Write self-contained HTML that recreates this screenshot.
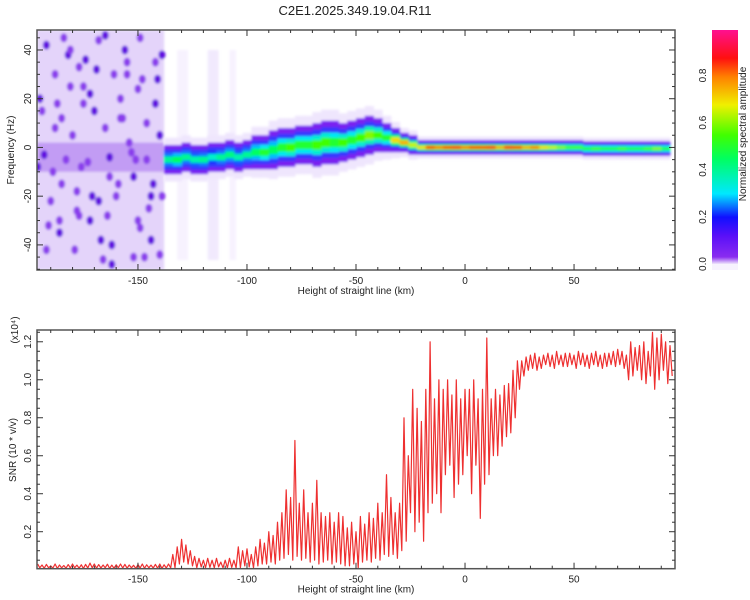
<!DOCTYPE html>
<html><head><meta charset="utf-8"><style>
body{margin:0;background:#fff;}
svg{display:block;font-family:"Liberation Sans",sans-serif;}
</style></head><body>
<svg id="c" width="750" height="600" viewBox="0 0 750 600">
<defs>
<filter id="bl" x="-20%" y="-20%" width="140%" height="140%"><feGaussianBlur stdDeviation="1.3"/></filter>
<linearGradient id="cbg" x1="0" y1="1" x2="0" y2="0">
<stop offset="0" stop-color="#efe6fc"/><stop offset="0.03" stop-color="#8a2cf0"/><stop offset="0.12" stop-color="#5a10f8"/><stop offset="0.2" stop-color="#1010ff"/><stop offset="0.3" stop-color="#00e8ff"/><stop offset="0.45" stop-color="#00ff60"/><stop offset="0.55" stop-color="#40ff00"/><stop offset="0.68" stop-color="#f0f000"/><stop offset="0.8" stop-color="#ff8000"/><stop offset="0.88" stop-color="#ff1010"/><stop offset="1" stop-color="#ff1090"/>
</linearGradient>
<clipPath id="cp1"><rect x="37" y="30" width="638" height="240"/></clipPath>
<clipPath id="cp2"><rect x="37" y="330" width="638" height="239"/></clipPath>
</defs>
<text x="355" y="15" font-size="13" text-anchor="middle" fill="#222">C2E1.2025.349.19.04.R11</text>
<g id="topPanel" clip-path="url(#cp1)"></g>
<g id="botPanel" clip-path="url(#cp2)"></g>
<g id="axes"></g>
</svg>
<script>
// ---- SNR data (x10^4), 2 km bins starting at -196
const snrStart = -196, snrStep = 2;
const snrHigh = [0.03,0.025,0.028,0.02,0.03,0.025,0.022,0.027,0.03,0.024,0.026,0.028,0.035,0.03,0.027,0.025,0.029,0.024,0.026,0.03,0.028,0.025,0.023,0.027,0.03,0.026,0.024,0.028,0.03,0.026,0.03,
0.08,0.12,0.16,0.13,0.1,
0.07,0.06,0.05,0.06,0.05,0.06,0.04,0.05,0.06,0.05,
0.12,0.1,0.11,0.08,
0.12,0.16,0.14,0.2,0.18,0.25,
0.3,0.42,0.38,0.68,
0.35,0.42,0.3,0.35,0.47,0.3,0.28,0.3,0.25,0.3,0.28,
0.22,0.25,0.2,0.28,0.24,0.3,0.27,0.35,0.3,0.5,
0.38,0.3,0.35,0.8,0.6,
0.95,0.85,0.78,0.95,1.2,
0.9,1.0,0.95,1.0,0.92,1.0,0.9,0.95,
0.95,1.0,0.9,0.95,1.22,
0.9,0.95,0.92,0.97,0.98,1.05,1.1,
1.1,1.12,1.13,1.14,1.12,1.13,1.14,1.13,1.15,1.13,1.14,1.14,1.13,1.15,1.14,1.13,1.14,1.15,1.13,1.14,1.14,1.15,1.16,1.15,1.13,1.2,1.17,
1.18,1.2,1.15,1.25,1.22,1.24,1.2,1.18];
const snrLow = [0.01,0.008,0.01,0.009,0.007,0.01,0.008,0.009,0.01,0.008,0.007,0.009,0.01,0.008,0.009,0.01,0.007,0.008,0.01,0.009,0.008,0.01,0.007,0.009,0.008,0.01,0.009,0.008,0.007,0.009,0.01,
0.01,0.03,0.04,0.03,0.02,
0.01,0.015,0.01,0.012,0.01,0.015,0.01,0.01,0.012,0.01,
0.01,0.02,0.015,0.01,
0.02,0.03,0.03,0.04,0.03,0.05,
0.06,0.08,0.05,0.07,
0.05,0.06,0.04,0.05,0.03,0.04,0.05,0.03,0.04,0.03,0.02,
0.02,0.03,0.01,0.04,0.05,0.04,0.06,0.05,0.08,0.07,
0.08,0.06,0.1,0.15,0.3,
0.2,0.25,0.15,0.3,0.35,
0.4,0.3,0.5,0.55,0.38,0.45,0.5,0.6,
0.4,0.55,0.27,0.45,0.5,
0.6,0.6,0.65,0.7,0.72,0.8,0.95,
1.02,1.05,1.06,1.05,1.06,1.08,1.07,1.06,1.08,1.07,1.07,1.08,1.06,1.08,1.07,1.06,1.08,1.07,1.06,1.07,1.08,1.07,1.08,1.06,1.0,1.02,1.05,
1.0,0.98,1.02,0.95,1.0,1.05,0.98,1.02];
// ---- spectrogram ridge data, 4 km steps starting at -136
const ridgeStart = -136, ridgeStep = 4;
const ridgeFreq = [-5,-5,-4,-5,-5,-4,-4,-3,-4,-3,-2,-2,-1,0,0,1,1,1,2,2,2,3,4,5,5,4,3,2,1,0,0,0,
0,0,0,0,0,0,0,0,0,0,0,0,0,0,0,0,-0.5,-0.5,-0.5,-0.5,-0.5,-0.5,-0.5,-0.5,-0.5,-0.5];
const ridgeAmp = [0.4,0.45,0.4,0.38,0.4,0.35,0.4,0.42,0.38,0.4,
0.45,0.5,0.45,0.5,0.55,0.5,0.5,0.55,0.55,0.5,0.55,0.5,
0.55,0.6,0.55,0.5,0.7,0.75,0.65,0.7,0.85,0.8,
0.85,0.9,0.8,0.85,0.85,0.9,0.75,0.9,0.85,0.75,0.8,0.7,0.65,0.6,0.55,0.55,0.5,0.55,0.5,0.5,0.55,0.5,0.5,0.55,0.6,0.5];
const ridgeWidth = [6,6,6,6,6,6,6,6,6,6,
7,7,8,8,8,8,8,9,9,9,8,8,
8,8,7,6,5,4,4,3,3,3,
3,3,3,3,3,3,3,3,3,3,3,3,3,3,3,3,3,3,3,3,3,3,3,3,3,3];
// noise speckles in the left (-196..-138) region: [km, Hz]
const speckX = [-192,-188,-185,-182,-178,-175,-172,-168,-165,-162,-158,-155,-152,-148,-145,-142,-140,-190,-186,-180,-176,-170,-166,-160,-156,-150,-146,-141,-194,-184,-174,-164,-154,-144,-189,-179,-169,-159,-149,-139,-191,-181,-171,-161,-151,-143,-187,-177,-167,-157,-147,
-193,-183,-173,-163,-153,-146,-195,-185,-177,-168,-158,-149,-140,-192,-181,-172,-163,-155,-144,-188,-178,-165,-152,-142,-196,-186,-175,-162,-150,-139];
const speckF = [42,30,12,38,-18,25,-30,44,8,-40,20,35,-12,28,-25,18,-44,-22,-35,5,-8,15,-46,-20,40,-30,10,28,15,45,36,-28,2,-38,-10,-42,32,-15,45,38,-32,25,-20,30,-5,-15,18,-28,-38,12,-45,
-3,-5,-6,-4,-2,-5,20,-15,33,-22,12,-33,5,-42,40,22,-12,30,-20,8,-26,46,-45,35,-8,-30,18,-48,24,-20];
const cbTicks = [0.0,0.2,0.4,0.6,0.8];
const xTicks = [-150,-100,-50,0,50];
const fTicks = [-40,-20,0,20,40];
const sTicks = [0.2,0.4,0.6,0.8,1.0,1.2];

const NS='http://www.w3.org/2000/svg';
function mk(tag, attrs, parent){const e=document.createElementNS(NS,tag);for(const k in attrs)e.setAttribute(k,attrs[k]);parent.appendChild(e);return e;}
const X0=37,X1=675,KM0=-196.3,KM1=96.3;
const xs = v => X0+(v-KM0)/(KM1-KM0)*(X1-X0);
const T0=30,T1=270,F0=-50.3,F1=48.2;
const yf = v => T1-(v-F0)/(F1-F0)*(T1-T0);
const B0=330,B1=569.7,S1=1.262;
const ys = v => B1-v/S1*(B1-B0);
function cmap(v){
  const st=[[0,[239,230,252]],[0.04,[138,44,240]],[0.12,[90,16,248]],[0.2,[16,16,255]],[0.3,[0,232,255]],[0.45,[0,255,96]],[0.55,[64,255,0]],[0.68,[240,240,0]],[0.8,[255,128,0]],[0.88,[255,16,16]],[1,[255,16,144]]];
  v=Math.max(0,Math.min(1,v));
  for(let i=1;i<st.length;i++){if(v<=st[i][0]){const a=st[i-1],b=st[i],t=(v-a[0])/(b[0]-a[0]);return 'rgb('+a[1].map((c,j)=>Math.round(c+(b[1][j]-c)*t)).join(',')+')';}}
  return 'rgb(255,16,144)';
}
// ---- top spectrogram
const topG=document.getElementById('topPanel');
const noise=mk('g',{filter:'url(#bl)'},topG);


mk('rect',{x:xs(-196.3),y:T0,width:xs(-138)-xs(-196.3),height:T1-T0,fill:'#e4d4fa'},noise);
mk('rect',{x:xs(-132),y:T0+20,width:xs(-127)-xs(-132),height:T1-T0-30,fill:'#f7f2fe'},noise);
mk('rect',{x:xs(-118),y:T0+20,width:xs(-113)-xs(-118),height:T1-T0-30,fill:'#f1e9fd'},noise);
mk('rect',{x:xs(-108),y:T0+20,width:xs(-105)-xs(-108),height:T1-T0-30,fill:'#f7f2fe'},noise);
mk('rect',{x:xs(-196.3),y:yf(2),width:xs(-138)-xs(-196.3),height:yf(-10)-yf(2),fill:'#9a58ee',opacity:0.45},noise);
for(let i=0;i<speckX.length;i++){
  const d=mk('ellipse',{cx:xs(speckX[i]),cy:yf(speckF[i]),rx:3.5,ry:4.5,fill:i%3===0?'#6010e0':'#8a3cec'},noise);
  
  
}
const band=mk('g',{filter:'url(#bl)'},topG);


const layers=[[1.5,()=> '#efe6fd'],[1.0,()=> '#7a20f0'],[0.7,()=> '#3838ff'],[0.45,a=>cmap(a*0.62)],[0.22,a=>cmap(a)]];
const colW=xs(ridgeStep)-xs(0);
layers.forEach(([k,fn])=>{
  for(let i=0;i<ridgeFreq.length;i++){
    const km=ridgeStart+i*ridgeStep, hw=ridgeWidth[i]*k;
    const r=mk('rect',{x:xs(km)-colW/2,y:yf(ridgeFreq[i]+hw),width:colW+0.5,height:yf(ridgeFreq[i]-hw)-yf(ridgeFreq[i]+hw),fill:fn(ridgeAmp[i])},band);
    
    
  }
});
// ---- bottom SNR line
const botG=document.getElementById('botPanel');
let pts=[];
for(let i=0;i<snrHigh.length;i++){const km=snrStart+i*snrStep;pts.push(xs(km).toFixed(1)+','+ys(snrHigh[i]).toFixed(1));pts.push(xs(km+1).toFixed(1)+','+ys(snrLow[i]).toFixed(1));}
const line=mk('polyline',{points:pts.join(' '),fill:'none',stroke:'#ee3030','stroke-width':1.2,'stroke-linejoin':'round'},botG);


// ---- axes
const ax=document.getElementById('axes');
function frame(y0,y1,name){const r=mk('rect',{x:X0,y:y0,width:X1-X0,height:y1-y0,fill:'none',stroke:'#555','stroke-width':1.5},ax);}
frame(T0,T1,'spectrogram-frame');frame(B0,B1-1,'snr-frame');
function xaxis(y0,y1,name){
  for(let v=-190;v<=90;v+=10){const x=xs(v),L=(v%50===0)?6:3;mk('line',{x1:x,y1:y1,x2:x,y2:y1-L,stroke:'#333'},ax);mk('line',{x1:x,y1:y0,x2:x,y2:y0+L,stroke:'#333'},ax);}
  xTicks.forEach(v=>{const tl=mk('text',{x:xs(v),y:y1+14,'font-size':10,'text-anchor':'middle',fill:'#222'},ax);tl.textContent=v;});
  const tt=mk('text',{x:356,y:y1+24,'font-size':10,'text-anchor':'middle',fill:'#222'},ax);tt.textContent='Height of straight line (km)';
}
xaxis(T0,T1,'x-axis-title-top');xaxis(B0,B1-1,'x-axis-title-bottom');
for(let v=-50;v<=45;v+=5){const y=yf(v),L=(v%20===0)?6:3;mk('line',{x1:X0,y1:y,x2:X0+L,y2:y,stroke:'#333'},ax);mk('line',{x1:X1,y1:y,x2:X1-L,y2:y,stroke:'#333'},ax);}
fTicks.forEach(v=>{const y=yf(v);const tl=mk('text',{x:0,y:0,transform:`translate(31,${y}) rotate(-90)`,'font-size':10,'text-anchor':'middle',fill:'#222'},ax);tl.textContent=v;});
let lbl=mk('text',{x:0,y:0,transform:'translate(14,150) rotate(-90)','font-size':10,'text-anchor':'middle',fill:'#222'},ax);lbl.textContent='Frequency (Hz)';
for(let k=1;k<=25;k++){const v=k*0.05,y=ys(v),L=(k%4===0)?6:3;mk('line',{x1:X0,y1:y,x2:X0+L,y2:y,stroke:'#333'},ax);mk('line',{x1:X1,y1:y,x2:X1-L,y2:y,stroke:'#333'},ax);}
sTicks.forEach(v=>{const y=ys(v);const tl=mk('text',{x:0,y:0,transform:`translate(31,${y}) rotate(-90)`,'font-size':10,'text-anchor':'middle',fill:'#222'},ax);tl.textContent=v.toFixed(1);});
lbl=mk('text',{x:0,y:0,transform:'translate(16,450) rotate(-90)','font-size':10,'text-anchor':'middle',fill:'#222'},ax);lbl.textContent='SNR (10 * v/v)';
lbl=mk('text',{x:0,y:0,transform:'translate(18,330) rotate(-90)','font-size':10,'text-anchor':'middle',fill:'#222'},ax);lbl.textContent='(x10⁴)';
// ---- colorbar
const cb=mk('rect',{x:712,y:30,width:26,height:234,fill:'url(#cbg)'},ax);


mk('rect',{x:712,y:264,width:26,height:6,fill:'#f7f2fe'},ax);
const cby=v=>264-v/0.993*234;
cbTicks.forEach(v=>{const tl=mk('text',{x:0,y:0,transform:`translate(706,${cby(v)}) rotate(-90)`,'font-size':10,'text-anchor':'middle',fill:'#222'},ax);tl.textContent=v.toFixed(1);});
lbl=mk('text',{x:0,y:0,transform:'translate(746,134) rotate(-90)','font-size':10,'text-anchor':'middle',fill:'#222'},ax);lbl.textContent='Normalized spectral amplitude';
</script>
</body></html>
